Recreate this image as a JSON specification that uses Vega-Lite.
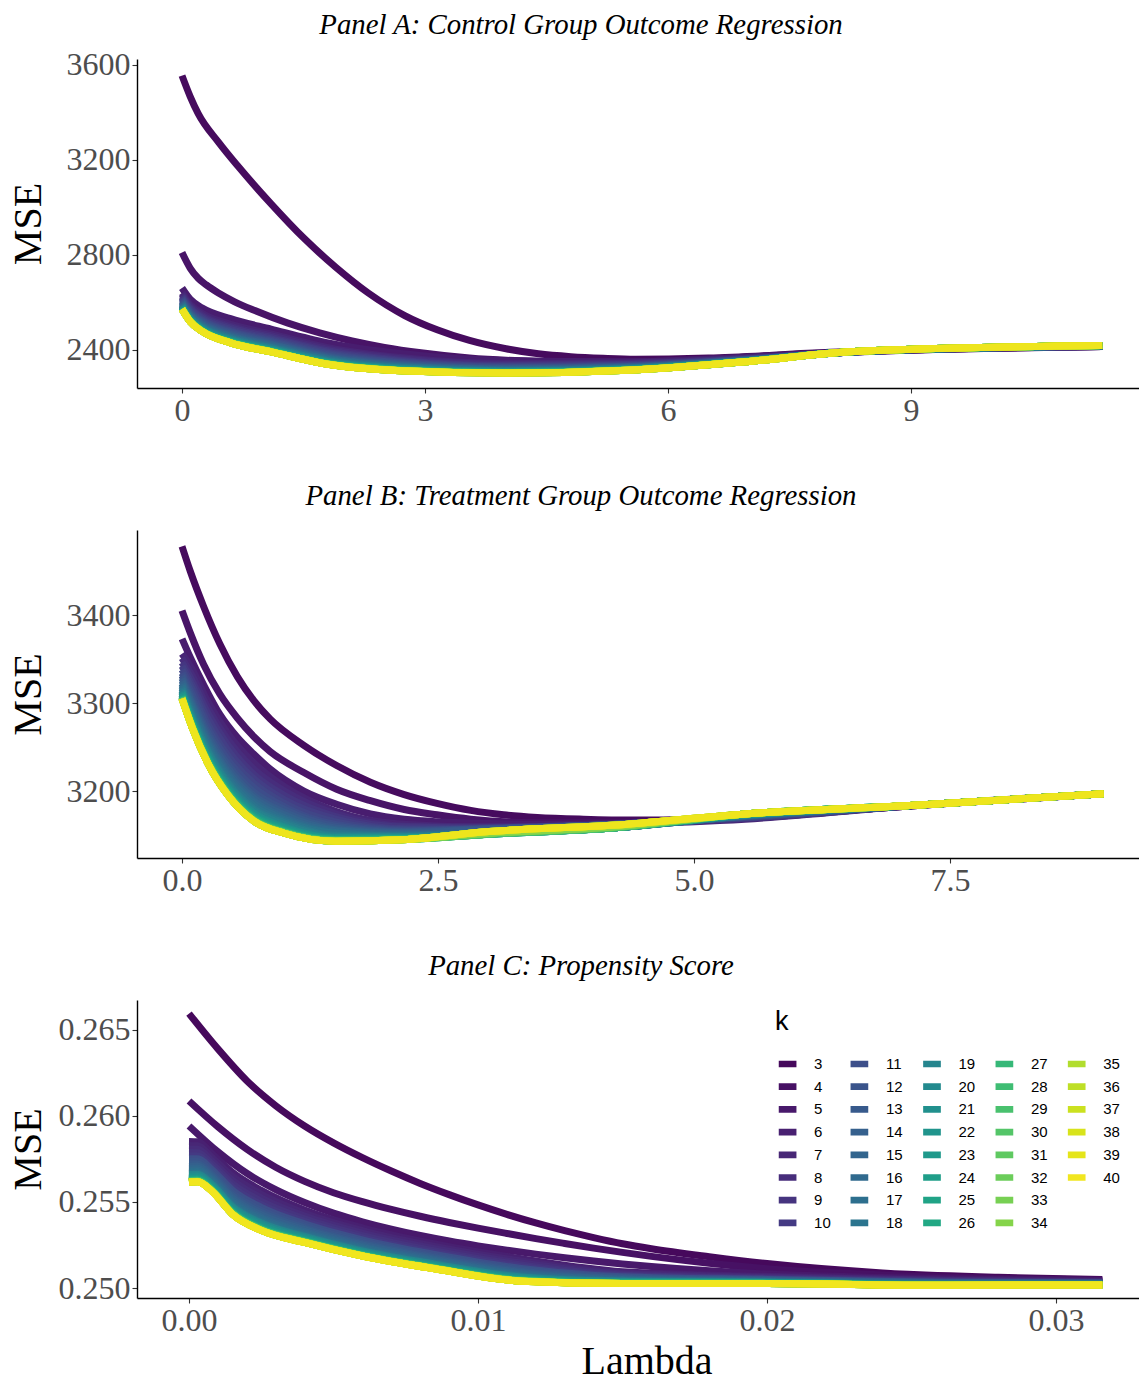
{
"$schema": "https://vega.github.io/schema/vega-lite/v6.json",
"background": "white",
"padding": {"left": 8, "top": 11, "right": 0, "bottom": 0},
"config": {
  "font": "Liberation Serif",
  "view": {"stroke": null},
  "axis": {"grid": false, "domainColor": "#000000", "domainWidth": 1.4, "tickColor": "#333333", "tickWidth": 1.1, "tickSize": 5, "labelFont": "Liberation Serif", "labelFontSize": 32, "labelColor": "#4D4D4D", "labelPadding": 2, "labelOverlap": false, "titleFont": "Liberation Serif", "titleFontSize": 40, "titleFontWeight": "normal", "titleColor": "#000000"}
},
"datasets": {
"A": [
{"k":3,"x":0,"y":3555},{"k":3,"x":0.1,"y":3468},{"k":3,"x":0.2,"y":3395},{"k":3,"x":0.45,"y":3275},{"k":3,"x":0.7,"y":3170},{"k":3,"x":1.1,"y":3015},{"k":3,"x":1.5,"y":2872},{"k":3,"x":1.9,"y":2748},{"k":3,"x":2.3,"y":2640},{"k":3,"x":2.75,"y":2545},{"k":3,"x":3.15,"y":2485},{"k":3,"x":3.55,"y":2440},{"k":3,"x":4,"y":2405},{"k":3,"x":4.4,"y":2384},{"k":3,"x":4.8,"y":2372},{"k":3,"x":5.2,"y":2365},{"k":3,"x":5.6,"y":2361},{"k":3,"x":6.5,"y":2366},{"k":3,"x":8,"y":2390},{"k":3,"x":9.5,"y":2405},{"k":3,"x":11.36,"y":2415},
{"k":4,"x":0,"y":2810},{"k":4,"x":0.1,"y":2745},{"k":4,"x":0.2,"y":2702},{"k":4,"x":0.3,"y":2674},{"k":4,"x":0.45,"y":2640},{"k":4,"x":0.65,"y":2603},{"k":4,"x":0.9,"y":2566},{"k":4,"x":1.3,"y":2514},{"k":4,"x":1.7,"y":2472},{"k":4,"x":2.1,"y":2438},{"k":4,"x":2.5,"y":2411},{"k":4,"x":2.95,"y":2388},{"k":4,"x":3.55,"y":2366},{"k":4,"x":4.4,"y":2352},{"k":4,"x":5.2,"y":2348},{"k":4,"x":6.5,"y":2362},{"k":4,"x":8,"y":2388},{"k":4,"x":9.5,"y":2404},{"k":4,"x":11.36,"y":2415},
{"k":5,"x":0,"y":2661},{"k":5,"x":0.1,"y":2614},{"k":5,"x":0.25,"y":2577},{"k":5,"x":0.6,"y":2532},{"k":5,"x":1.1,"y":2488},{"k":5,"x":1.8,"y":2430},{"k":5,"x":2.7,"y":2385},{"k":5,"x":4,"y":2355},{"k":5,"x":5.5,"y":2350},{"k":5,"x":7,"y":2370},{"k":5,"x":8.3,"y":2392},{"k":5,"x":11.36,"y":2415},
{"k":6,"x":0,"y":2640},{"k":6,"x":0.1,"y":2592},{"k":6,"x":0.25,"y":2554},{"k":6,"x":0.6,"y":2508},{"k":6,"x":1.1,"y":2468},{"k":6,"x":1.8,"y":2410},{"k":6,"x":2.7,"y":2368},{"k":6,"x":4,"y":2343},{"k":6,"x":5.5,"y":2345},{"k":6,"x":7,"y":2366},{"k":6,"x":8.3,"y":2392},{"k":6,"x":11.36,"y":2415},
{"k":7,"x":0,"y":2633},{"k":7,"x":0.1,"y":2585},{"k":7,"x":0.25,"y":2546},{"k":7,"x":0.6,"y":2500},{"k":7,"x":1.1,"y":2460},{"k":7,"x":1.8,"y":2403},{"k":7,"x":2.7,"y":2363},{"k":7,"x":4,"y":2339},{"k":7,"x":5.5,"y":2342},{"k":7,"x":7,"y":2365},{"k":7,"x":8.3,"y":2392},{"k":7,"x":11.36,"y":2415},
{"k":8,"x":0,"y":2627},{"k":8,"x":0.1,"y":2578},{"k":8,"x":0.25,"y":2539},{"k":8,"x":0.6,"y":2493},{"k":8,"x":1.1,"y":2453},{"k":8,"x":1.8,"y":2397},{"k":8,"x":2.7,"y":2357},{"k":8,"x":4,"y":2335},{"k":8,"x":5.5,"y":2339},{"k":8,"x":7,"y":2363},{"k":8,"x":8.3,"y":2392},{"k":8,"x":11.36,"y":2416},
{"k":9,"x":0,"y":2621},{"k":9,"x":0.1,"y":2572},{"k":9,"x":0.25,"y":2533},{"k":9,"x":0.6,"y":2486},{"k":9,"x":1.1,"y":2447},{"k":9,"x":1.8,"y":2391},{"k":9,"x":2.7,"y":2353},{"k":9,"x":4,"y":2332},{"k":9,"x":5.5,"y":2337},{"k":9,"x":7,"y":2362},{"k":9,"x":8.3,"y":2393},{"k":9,"x":11.36,"y":2416},
{"k":10,"x":0,"y":2616},{"k":10,"x":0.1,"y":2566},{"k":10,"x":0.25,"y":2527},{"k":10,"x":0.6,"y":2480},{"k":10,"x":1.1,"y":2441},{"k":10,"x":1.8,"y":2385},{"k":10,"x":2.7,"y":2348},{"k":10,"x":4,"y":2329},{"k":10,"x":5.5,"y":2334},{"k":10,"x":7,"y":2361},{"k":10,"x":8.3,"y":2393},{"k":10,"x":11.36,"y":2416},
{"k":11,"x":0,"y":2611},{"k":11,"x":0.1,"y":2561},{"k":11,"x":0.25,"y":2522},{"k":11,"x":0.6,"y":2475},{"k":11,"x":1.1,"y":2436},{"k":11,"x":1.8,"y":2380},{"k":11,"x":2.7,"y":2345},{"k":11,"x":4,"y":2326},{"k":11,"x":5.5,"y":2332},{"k":11,"x":7,"y":2360},{"k":11,"x":8.3,"y":2393},{"k":11,"x":11.36,"y":2417},
{"k":12,"x":0,"y":2606},{"k":12,"x":0.1,"y":2557},{"k":12,"x":0.25,"y":2517},{"k":12,"x":0.6,"y":2470},{"k":12,"x":1.1,"y":2431},{"k":12,"x":1.8,"y":2375},{"k":12,"x":2.7,"y":2341},{"k":12,"x":4,"y":2323},{"k":12,"x":5.5,"y":2330},{"k":12,"x":7,"y":2359},{"k":12,"x":8.3,"y":2393},{"k":12,"x":11.36,"y":2417},
{"k":13,"x":0,"y":2602},{"k":13,"x":0.1,"y":2552},{"k":13,"x":0.25,"y":2512},{"k":13,"x":0.6,"y":2465},{"k":13,"x":1.1,"y":2426},{"k":13,"x":1.8,"y":2371},{"k":13,"x":2.7,"y":2338},{"k":13,"x":4,"y":2321},{"k":13,"x":5.5,"y":2328},{"k":13,"x":7,"y":2358},{"k":13,"x":8.3,"y":2393},{"k":13,"x":11.36,"y":2417},
{"k":14,"x":0,"y":2599},{"k":14,"x":0.1,"y":2548},{"k":14,"x":0.25,"y":2508},{"k":14,"x":0.6,"y":2460},{"k":14,"x":1.1,"y":2422},{"k":14,"x":1.8,"y":2367},{"k":14,"x":2.7,"y":2335},{"k":14,"x":4,"y":2319},{"k":14,"x":5.5,"y":2327},{"k":14,"x":7,"y":2357},{"k":14,"x":8.3,"y":2393},{"k":14,"x":11.36,"y":2417},
{"k":15,"x":0,"y":2595},{"k":15,"x":0.1,"y":2545},{"k":15,"x":0.25,"y":2504},{"k":15,"x":0.6,"y":2457},{"k":15,"x":1.1,"y":2418},{"k":15,"x":1.8,"y":2364},{"k":15,"x":2.7,"y":2332},{"k":15,"x":4,"y":2317},{"k":15,"x":5.5,"y":2325},{"k":15,"x":7,"y":2357},{"k":15,"x":8.3,"y":2393},{"k":15,"x":11.36,"y":2418},
{"k":16,"x":0,"y":2592},{"k":16,"x":0.1,"y":2541},{"k":16,"x":0.25,"y":2500},{"k":16,"x":0.6,"y":2453},{"k":16,"x":1.1,"y":2414},{"k":16,"x":1.8,"y":2361},{"k":16,"x":2.7,"y":2329},{"k":16,"x":4,"y":2315},{"k":16,"x":5.5,"y":2324},{"k":16,"x":7,"y":2356},{"k":16,"x":8.3,"y":2393},{"k":16,"x":11.36,"y":2418},
{"k":17,"x":0,"y":2589},{"k":17,"x":0.1,"y":2538},{"k":17,"x":0.25,"y":2497},{"k":17,"x":0.6,"y":2450},{"k":17,"x":1.1,"y":2411},{"k":17,"x":1.8,"y":2358},{"k":17,"x":2.7,"y":2327},{"k":17,"x":4,"y":2313},{"k":17,"x":5.5,"y":2323},{"k":17,"x":7,"y":2356},{"k":17,"x":8.3,"y":2393},{"k":17,"x":11.36,"y":2418},
{"k":18,"x":0,"y":2587},{"k":18,"x":0.1,"y":2536},{"k":18,"x":0.25,"y":2495},{"k":18,"x":0.6,"y":2447},{"k":18,"x":1.1,"y":2409},{"k":18,"x":1.8,"y":2355},{"k":18,"x":2.7,"y":2325},{"k":18,"x":4,"y":2312},{"k":18,"x":5.5,"y":2322},{"k":18,"x":7,"y":2355},{"k":18,"x":8.3,"y":2394},{"k":18,"x":11.36,"y":2418},
{"k":19,"x":0,"y":2585},{"k":19,"x":0.1,"y":2533},{"k":19,"x":0.25,"y":2492},{"k":19,"x":0.6,"y":2444},{"k":19,"x":1.1,"y":2406},{"k":19,"x":1.8,"y":2353},{"k":19,"x":2.7,"y":2323},{"k":19,"x":4,"y":2310},{"k":19,"x":5.5,"y":2321},{"k":19,"x":7,"y":2355},{"k":19,"x":8.3,"y":2394},{"k":19,"x":11.36,"y":2418},
{"k":20,"x":0,"y":2583},{"k":20,"x":0.1,"y":2531},{"k":20,"x":0.25,"y":2490},{"k":20,"x":0.6,"y":2442},{"k":20,"x":1.1,"y":2404},{"k":20,"x":1.8,"y":2351},{"k":20,"x":2.7,"y":2322},{"k":20,"x":4,"y":2309},{"k":20,"x":5.5,"y":2320},{"k":20,"x":7,"y":2354},{"k":20,"x":8.3,"y":2394},{"k":20,"x":11.36,"y":2418},
{"k":21,"x":0,"y":2581},{"k":21,"x":0.1,"y":2529},{"k":21,"x":0.25,"y":2488},{"k":21,"x":0.6,"y":2440},{"k":21,"x":1.1,"y":2402},{"k":21,"x":1.8,"y":2349},{"k":21,"x":2.7,"y":2320},{"k":21,"x":4,"y":2308},{"k":21,"x":5.5,"y":2319},{"k":21,"x":7,"y":2354},{"k":21,"x":8.3,"y":2394},{"k":21,"x":11.36,"y":2418},
{"k":22,"x":0,"y":2579},{"k":22,"x":0.1,"y":2528},{"k":22,"x":0.25,"y":2486},{"k":22,"x":0.6,"y":2438},{"k":22,"x":1.1,"y":2400},{"k":22,"x":1.8,"y":2348},{"k":22,"x":2.7,"y":2319},{"k":22,"x":4,"y":2307},{"k":22,"x":5.5,"y":2318},{"k":22,"x":7,"y":2354},{"k":22,"x":8.3,"y":2394},{"k":22,"x":11.36,"y":2419},
{"k":23,"x":0,"y":2578},{"k":23,"x":0.1,"y":2526},{"k":23,"x":0.25,"y":2485},{"k":23,"x":0.6,"y":2437},{"k":23,"x":1.1,"y":2399},{"k":23,"x":1.8,"y":2346},{"k":23,"x":2.7,"y":2318},{"k":23,"x":4,"y":2307},{"k":23,"x":5.5,"y":2318},{"k":23,"x":7,"y":2353},{"k":23,"x":8.3,"y":2394},{"k":23,"x":11.36,"y":2419},
{"k":24,"x":0,"y":2577},{"k":24,"x":0.1,"y":2525},{"k":24,"x":0.25,"y":2483},{"k":24,"x":0.6,"y":2436},{"k":24,"x":1.1,"y":2397},{"k":24,"x":1.8,"y":2345},{"k":24,"x":2.7,"y":2317},{"k":24,"x":4,"y":2306},{"k":24,"x":5.5,"y":2317},{"k":24,"x":7,"y":2353},{"k":24,"x":8.3,"y":2394},{"k":24,"x":11.36,"y":2419},
{"k":25,"x":0,"y":2576},{"k":25,"x":0.1,"y":2524},{"k":25,"x":0.25,"y":2482},{"k":25,"x":0.6,"y":2434},{"k":25,"x":1.1,"y":2396},{"k":25,"x":1.8,"y":2344},{"k":25,"x":2.7,"y":2316},{"k":25,"x":4,"y":2305},{"k":25,"x":5.5,"y":2317},{"k":25,"x":7,"y":2353},{"k":25,"x":8.3,"y":2394},{"k":25,"x":11.36,"y":2419},
{"k":26,"x":0,"y":2575},{"k":26,"x":0.1,"y":2523},{"k":26,"x":0.25,"y":2481},{"k":26,"x":0.6,"y":2434},{"k":26,"x":1.1,"y":2395},{"k":26,"x":1.8,"y":2343},{"k":26,"x":2.7,"y":2315},{"k":26,"x":4,"y":2305},{"k":26,"x":5.5,"y":2316},{"k":26,"x":7,"y":2353},{"k":26,"x":8.3,"y":2394},{"k":26,"x":11.36,"y":2419},
{"k":27,"x":0,"y":2574},{"k":27,"x":0.1,"y":2523},{"k":27,"x":0.25,"y":2481},{"k":27,"x":0.6,"y":2433},{"k":27,"x":1.1,"y":2395},{"k":27,"x":1.8,"y":2342},{"k":27,"x":2.7,"y":2315},{"k":27,"x":4,"y":2304},{"k":27,"x":5.5,"y":2316},{"k":27,"x":7,"y":2352},{"k":27,"x":8.3,"y":2394},{"k":27,"x":11.36,"y":2419},
{"k":28,"x":0,"y":2574},{"k":28,"x":0.1,"y":2522},{"k":28,"x":0.25,"y":2480},{"k":28,"x":0.6,"y":2432},{"k":28,"x":1.1,"y":2394},{"k":28,"x":1.8,"y":2342},{"k":28,"x":2.7,"y":2314},{"k":28,"x":4,"y":2304},{"k":28,"x":5.5,"y":2316},{"k":28,"x":7,"y":2352},{"k":28,"x":8.3,"y":2394},{"k":28,"x":11.36,"y":2419},
{"k":29,"x":0,"y":2573},{"k":29,"x":0.1,"y":2521},{"k":29,"x":0.25,"y":2479},{"k":29,"x":0.6,"y":2431},{"k":29,"x":1.1,"y":2393},{"k":29,"x":1.8,"y":2341},{"k":29,"x":2.7,"y":2314},{"k":29,"x":4,"y":2304},{"k":29,"x":5.5,"y":2316},{"k":29,"x":7,"y":2352},{"k":29,"x":8.3,"y":2394},{"k":29,"x":11.36,"y":2419},
{"k":30,"x":0,"y":2573},{"k":30,"x":0.1,"y":2521},{"k":30,"x":0.25,"y":2479},{"k":30,"x":0.6,"y":2431},{"k":30,"x":1.1,"y":2393},{"k":30,"x":1.8,"y":2341},{"k":30,"x":2.7,"y":2314},{"k":30,"x":4,"y":2304},{"k":30,"x":5.5,"y":2315},{"k":30,"x":7,"y":2352},{"k":30,"x":8.3,"y":2394},{"k":30,"x":11.36,"y":2419},
{"k":31,"x":0,"y":2573},{"k":31,"x":0.1,"y":2521},{"k":31,"x":0.25,"y":2479},{"k":31,"x":0.6,"y":2431},{"k":31,"x":1.1,"y":2393},{"k":31,"x":1.8,"y":2341},{"k":31,"x":2.7,"y":2314},{"k":31,"x":4,"y":2303},{"k":31,"x":5.5,"y":2315},{"k":31,"x":7,"y":2352},{"k":31,"x":8.3,"y":2394},{"k":31,"x":11.36,"y":2419},
{"k":32,"x":0,"y":2572},{"k":32,"x":0.1,"y":2520},{"k":32,"x":0.25,"y":2478},{"k":32,"x":0.6,"y":2430},{"k":32,"x":1.1,"y":2392},{"k":32,"x":1.8,"y":2340},{"k":32,"x":2.7,"y":2313},{"k":32,"x":4,"y":2303},{"k":32,"x":5.5,"y":2315},{"k":32,"x":7,"y":2352},{"k":32,"x":8.3,"y":2394},{"k":32,"x":11.36,"y":2419},
{"k":33,"x":0,"y":2572},{"k":33,"x":0.1,"y":2520},{"k":33,"x":0.25,"y":2478},{"k":33,"x":0.6,"y":2430},{"k":33,"x":1.1,"y":2392},{"k":33,"x":1.8,"y":2340},{"k":33,"x":2.7,"y":2313},{"k":33,"x":4,"y":2303},{"k":33,"x":5.5,"y":2315},{"k":33,"x":7,"y":2352},{"k":33,"x":8.3,"y":2394},{"k":33,"x":11.36,"y":2419},
{"k":34,"x":0,"y":2572},{"k":34,"x":0.1,"y":2520},{"k":34,"x":0.25,"y":2478},{"k":34,"x":0.6,"y":2430},{"k":34,"x":1.1,"y":2392},{"k":34,"x":1.8,"y":2340},{"k":34,"x":2.7,"y":2313},{"k":34,"x":4,"y":2303},{"k":34,"x":5.5,"y":2315},{"k":34,"x":7,"y":2352},{"k":34,"x":8.3,"y":2394},{"k":34,"x":11.36,"y":2419},
{"k":35,"x":0,"y":2572},{"k":35,"x":0.1,"y":2520},{"k":35,"x":0.25,"y":2478},{"k":35,"x":0.6,"y":2430},{"k":35,"x":1.1,"y":2392},{"k":35,"x":1.8,"y":2340},{"k":35,"x":2.7,"y":2313},{"k":35,"x":4,"y":2303},{"k":35,"x":5.5,"y":2315},{"k":35,"x":7,"y":2352},{"k":35,"x":8.3,"y":2394},{"k":35,"x":11.36,"y":2419},
{"k":36,"x":0,"y":2572},{"k":36,"x":0.1,"y":2520},{"k":36,"x":0.25,"y":2478},{"k":36,"x":0.6,"y":2430},{"k":36,"x":1.1,"y":2392},{"k":36,"x":1.8,"y":2340},{"k":36,"x":2.7,"y":2313},{"k":36,"x":4,"y":2303},{"k":36,"x":5.5,"y":2315},{"k":36,"x":7,"y":2352},{"k":36,"x":8.3,"y":2394},{"k":36,"x":11.36,"y":2419},
{"k":37,"x":0,"y":2572},{"k":37,"x":0.1,"y":2520},{"k":37,"x":0.25,"y":2478},{"k":37,"x":0.6,"y":2430},{"k":37,"x":1.1,"y":2392},{"k":37,"x":1.8,"y":2340},{"k":37,"x":2.7,"y":2313},{"k":37,"x":4,"y":2303},{"k":37,"x":5.5,"y":2315},{"k":37,"x":7,"y":2352},{"k":37,"x":8.3,"y":2394},{"k":37,"x":11.36,"y":2419},
{"k":38,"x":0,"y":2572},{"k":38,"x":0.1,"y":2520},{"k":38,"x":0.25,"y":2478},{"k":38,"x":0.6,"y":2430},{"k":38,"x":1.1,"y":2392},{"k":38,"x":1.8,"y":2340},{"k":38,"x":2.7,"y":2313},{"k":38,"x":4,"y":2303},{"k":38,"x":5.5,"y":2315},{"k":38,"x":7,"y":2352},{"k":38,"x":8.3,"y":2394},{"k":38,"x":11.36,"y":2419},
{"k":39,"x":0,"y":2572},{"k":39,"x":0.1,"y":2520},{"k":39,"x":0.25,"y":2478},{"k":39,"x":0.6,"y":2430},{"k":39,"x":1.1,"y":2392},{"k":39,"x":1.8,"y":2340},{"k":39,"x":2.7,"y":2313},{"k":39,"x":4,"y":2303},{"k":39,"x":5.5,"y":2315},{"k":39,"x":7,"y":2352},{"k":39,"x":8.3,"y":2394},{"k":39,"x":11.36,"y":2419},
{"k":40,"x":0,"y":2572},{"k":40,"x":0.1,"y":2520},{"k":40,"x":0.25,"y":2478},{"k":40,"x":0.6,"y":2430},{"k":40,"x":1.1,"y":2392},{"k":40,"x":1.8,"y":2340},{"k":40,"x":2.7,"y":2313},{"k":40,"x":4,"y":2303},{"k":40,"x":5.5,"y":2315},{"k":40,"x":7,"y":2352},{"k":40,"x":8.3,"y":2394},{"k":40,"x":11.36,"y":2419}
],
"B": [
{"k":3,"x":0,"y":3478},{"k":3,"x":0.08,"y":3450},{"k":3,"x":0.21,"y":3410},{"k":3,"x":0.37,"y":3367},{"k":3,"x":0.54,"y":3330},{"k":3,"x":0.7,"y":3303},{"k":3,"x":0.86,"y":3282},{"k":3,"x":1.19,"y":3252},{"k":3,"x":1.51,"y":3229},{"k":3,"x":1.84,"y":3210},{"k":3,"x":2.17,"y":3196},{"k":3,"x":2.49,"y":3186},{"k":3,"x":2.82,"y":3178},{"k":3,"x":3.14,"y":3173},{"k":3,"x":3.47,"y":3170},{"k":3,"x":3.92,"y":3168},{"k":3,"x":4.4,"y":3167},{"k":3,"x":5,"y":3168},{"k":3,"x":6.2,"y":3176},{"k":3,"x":7.5,"y":3186},{"k":3,"x":9,"y":3197},
{"k":4,"x":0,"y":3405},{"k":4,"x":0.08,"y":3380},{"k":4,"x":0.21,"y":3344},{"k":4,"x":0.37,"y":3310},{"k":4,"x":0.54,"y":3283},{"k":4,"x":0.7,"y":3262},{"k":4,"x":0.86,"y":3245},{"k":4,"x":1.19,"y":3221},{"k":4,"x":1.51,"y":3202},{"k":4,"x":1.84,"y":3189},{"k":4,"x":2.17,"y":3179},{"k":4,"x":2.49,"y":3173},{"k":4,"x":2.82,"y":3168},{"k":4,"x":3.47,"y":3164},{"k":4,"x":4.2,"y":3164},{"k":4,"x":5,"y":3167},{"k":4,"x":6.2,"y":3176},{"k":4,"x":7.5,"y":3186},{"k":4,"x":9,"y":3197},
{"k":5,"x":0,"y":3373},{"k":5,"x":0.08,"y":3352},{"k":5,"x":0.21,"y":3321},{"k":5,"x":0.37,"y":3287},{"k":5,"x":0.54,"y":3261},{"k":5,"x":0.7,"y":3242},{"k":5,"x":0.86,"y":3225},{"k":5,"x":1.19,"y":3200},{"k":5,"x":1.51,"y":3185},{"k":5,"x":1.84,"y":3174},{"k":5,"x":2.17,"y":3168},{"k":5,"x":2.5,"y":3165},{"k":5,"x":3,"y":3163},{"k":5,"x":3.5,"y":3162},{"k":5,"x":4.2,"y":3163},{"k":5,"x":5,"y":3167},{"k":5,"x":6.2,"y":3176},{"k":5,"x":7.5,"y":3186},{"k":5,"x":9,"y":3197},
{"k":6,"x":0,"y":3356},{"k":6,"x":0.1,"y":3338},{"k":6,"x":0.25,"y":3302},{"k":6,"x":0.45,"y":3265},{"k":6,"x":0.7,"y":3232},{"k":6,"x":1,"y":3205},{"k":6,"x":1.5,"y":3177},{"k":6,"x":2.2,"y":3162},{"k":6,"x":3,"y":3159},{"k":6,"x":4.2,"y":3162},{"k":6,"x":5.5,"y":3168},{"k":6,"x":7.2,"y":3184},{"k":6,"x":9,"y":3197},
{"k":7,"x":0,"y":3351},{"k":7,"x":0.1,"y":3331},{"k":7,"x":0.25,"y":3295},{"k":7,"x":0.45,"y":3258},{"k":7,"x":0.7,"y":3225},{"k":7,"x":1,"y":3200},{"k":7,"x":1.5,"y":3174},{"k":7,"x":2.2,"y":3160},{"k":7,"x":3,"y":3159},{"k":7,"x":4.2,"y":3162},{"k":7,"x":5.5,"y":3169},{"k":7,"x":7.2,"y":3184},{"k":7,"x":9,"y":3197},
{"k":8,"x":0,"y":3346},{"k":8,"x":0.1,"y":3325},{"k":8,"x":0.25,"y":3289},{"k":8,"x":0.45,"y":3252},{"k":8,"x":0.7,"y":3219},{"k":8,"x":1,"y":3195},{"k":8,"x":1.5,"y":3171},{"k":8,"x":2.2,"y":3159},{"k":8,"x":3,"y":3158},{"k":8,"x":4.2,"y":3162},{"k":8,"x":5.5,"y":3169},{"k":8,"x":7.2,"y":3184},{"k":8,"x":9,"y":3197},
{"k":9,"x":0,"y":3342},{"k":9,"x":0.1,"y":3320},{"k":9,"x":0.25,"y":3283},{"k":9,"x":0.45,"y":3246},{"k":9,"x":0.7,"y":3214},{"k":9,"x":1,"y":3190},{"k":9,"x":1.5,"y":3168},{"k":9,"x":2.2,"y":3157},{"k":9,"x":3,"y":3158},{"k":9,"x":4.2,"y":3162},{"k":9,"x":5.5,"y":3170},{"k":9,"x":7.2,"y":3184},{"k":9,"x":9,"y":3197},
{"k":10,"x":0,"y":3338},{"k":10,"x":0.1,"y":3315},{"k":10,"x":0.25,"y":3277},{"k":10,"x":0.45,"y":3240},{"k":10,"x":0.7,"y":3209},{"k":10,"x":1,"y":3186},{"k":10,"x":1.5,"y":3165},{"k":10,"x":2.2,"y":3156},{"k":10,"x":3,"y":3157},{"k":10,"x":4.2,"y":3162},{"k":10,"x":5.5,"y":3170},{"k":10,"x":7.2,"y":3184},{"k":10,"x":9,"y":3197},
{"k":11,"x":0,"y":3334},{"k":11,"x":0.1,"y":3310},{"k":11,"x":0.25,"y":3272},{"k":11,"x":0.45,"y":3235},{"k":11,"x":0.7,"y":3204},{"k":11,"x":1,"y":3182},{"k":11,"x":1.5,"y":3162},{"k":11,"x":2.2,"y":3155},{"k":11,"x":3,"y":3157},{"k":11,"x":4.2,"y":3162},{"k":11,"x":5.5,"y":3171},{"k":11,"x":7.2,"y":3184},{"k":11,"x":9,"y":3197},
{"k":12,"x":0,"y":3331},{"k":12,"x":0.1,"y":3305},{"k":12,"x":0.25,"y":3267},{"k":12,"x":0.45,"y":3230},{"k":12,"x":0.7,"y":3199},{"k":12,"x":1,"y":3179},{"k":12,"x":1.5,"y":3160},{"k":12,"x":2.2,"y":3154},{"k":12,"x":3,"y":3157},{"k":12,"x":4.2,"y":3162},{"k":12,"x":5.5,"y":3171},{"k":12,"x":7.2,"y":3184},{"k":12,"x":9,"y":3197},
{"k":13,"x":0,"y":3328},{"k":13,"x":0.1,"y":3301},{"k":13,"x":0.25,"y":3263},{"k":13,"x":0.45,"y":3226},{"k":13,"x":0.7,"y":3195},{"k":13,"x":1,"y":3176},{"k":13,"x":1.5,"y":3158},{"k":13,"x":2.2,"y":3153},{"k":13,"x":3,"y":3156},{"k":13,"x":4.2,"y":3161},{"k":13,"x":5.5,"y":3171},{"k":13,"x":7.2,"y":3184},{"k":13,"x":9,"y":3197},
{"k":14,"x":0,"y":3325},{"k":14,"x":0.1,"y":3298},{"k":14,"x":0.25,"y":3259},{"k":14,"x":0.45,"y":3222},{"k":14,"x":0.7,"y":3192},{"k":14,"x":1,"y":3173},{"k":14,"x":1.5,"y":3156},{"k":14,"x":2.2,"y":3152},{"k":14,"x":3,"y":3153},{"k":14,"x":4.2,"y":3158},{"k":14,"x":5.5,"y":3172},{"k":14,"x":7.2,"y":3184},{"k":14,"x":9,"y":3197},
{"k":15,"x":0,"y":3322},{"k":15,"x":0.1,"y":3295},{"k":15,"x":0.25,"y":3256},{"k":15,"x":0.45,"y":3219},{"k":15,"x":0.7,"y":3189},{"k":15,"x":1,"y":3170},{"k":15,"x":1.5,"y":3155},{"k":15,"x":2.2,"y":3151},{"k":15,"x":3,"y":3153},{"k":15,"x":4.2,"y":3158},{"k":15,"x":5.5,"y":3172},{"k":15,"x":7.2,"y":3184},{"k":15,"x":9,"y":3197},
{"k":16,"x":0,"y":3320},{"k":16,"x":0.1,"y":3292},{"k":16,"x":0.25,"y":3253},{"k":16,"x":0.45,"y":3216},{"k":16,"x":0.7,"y":3186},{"k":16,"x":1,"y":3168},{"k":16,"x":1.5,"y":3153},{"k":16,"x":2.2,"y":3150},{"k":16,"x":3,"y":3152},{"k":16,"x":4.2,"y":3158},{"k":16,"x":5.5,"y":3172},{"k":16,"x":7.2,"y":3184},{"k":16,"x":9,"y":3197},
{"k":17,"x":0,"y":3318},{"k":17,"x":0.1,"y":3289},{"k":17,"x":0.25,"y":3250},{"k":17,"x":0.45,"y":3213},{"k":17,"x":0.7,"y":3183},{"k":17,"x":1,"y":3166},{"k":17,"x":1.5,"y":3152},{"k":17,"x":2.2,"y":3149},{"k":17,"x":3,"y":3152},{"k":17,"x":4.2,"y":3158},{"k":17,"x":5.5,"y":3172},{"k":17,"x":7.2,"y":3184},{"k":17,"x":9,"y":3197},
{"k":18,"x":0,"y":3316},{"k":18,"x":0.1,"y":3286},{"k":18,"x":0.25,"y":3247},{"k":18,"x":0.45,"y":3210},{"k":18,"x":0.7,"y":3180},{"k":18,"x":1,"y":3164},{"k":18,"x":1.5,"y":3150},{"k":18,"x":2.2,"y":3149},{"k":18,"x":3,"y":3152},{"k":18,"x":4.2,"y":3158},{"k":18,"x":5.5,"y":3173},{"k":18,"x":7.2,"y":3184},{"k":18,"x":9,"y":3197},
{"k":19,"x":0,"y":3314},{"k":19,"x":0.1,"y":3284},{"k":19,"x":0.25,"y":3245},{"k":19,"x":0.45,"y":3208},{"k":19,"x":0.7,"y":3178},{"k":19,"x":1,"y":3162},{"k":19,"x":1.5,"y":3149},{"k":19,"x":2.2,"y":3148},{"k":19,"x":3,"y":3152},{"k":19,"x":4.2,"y":3158},{"k":19,"x":5.5,"y":3173},{"k":19,"x":7.2,"y":3184},{"k":19,"x":9,"y":3197},
{"k":20,"x":0,"y":3313},{"k":20,"x":0.1,"y":3282},{"k":20,"x":0.25,"y":3243},{"k":20,"x":0.45,"y":3206},{"k":20,"x":0.7,"y":3176},{"k":20,"x":1,"y":3160},{"k":20,"x":1.5,"y":3148},{"k":20,"x":2.2,"y":3148},{"k":20,"x":3,"y":3152},{"k":20,"x":4.2,"y":3158},{"k":20,"x":5.5,"y":3173},{"k":20,"x":7.2,"y":3184},{"k":20,"x":9,"y":3197},
{"k":21,"x":0,"y":3312},{"k":21,"x":0.1,"y":3281},{"k":21,"x":0.25,"y":3241},{"k":21,"x":0.45,"y":3204},{"k":21,"x":0.7,"y":3175},{"k":21,"x":1,"y":3159},{"k":21,"x":1.5,"y":3147},{"k":21,"x":2.2,"y":3147},{"k":21,"x":3,"y":3152},{"k":21,"x":4.2,"y":3158},{"k":21,"x":5.5,"y":3173},{"k":21,"x":7.2,"y":3184},{"k":21,"x":9,"y":3197},
{"k":22,"x":0,"y":3311},{"k":22,"x":0.1,"y":3279},{"k":22,"x":0.25,"y":3240},{"k":22,"x":0.45,"y":3203},{"k":22,"x":0.7,"y":3173},{"k":22,"x":1,"y":3158},{"k":22,"x":1.5,"y":3147},{"k":22,"x":2.2,"y":3147},{"k":22,"x":3,"y":3152},{"k":22,"x":4.2,"y":3158},{"k":22,"x":5.5,"y":3173},{"k":22,"x":7.2,"y":3184},{"k":22,"x":9,"y":3197},
{"k":23,"x":0,"y":3309},{"k":23,"x":0.1,"y":3278},{"k":23,"x":0.25,"y":3238},{"k":23,"x":0.45,"y":3201},{"k":23,"x":0.7,"y":3172},{"k":23,"x":1,"y":3157},{"k":23,"x":1.5,"y":3146},{"k":23,"x":2.2,"y":3146},{"k":23,"x":3,"y":3151},{"k":23,"x":4.2,"y":3158},{"k":23,"x":5.5,"y":3173},{"k":23,"x":7.2,"y":3184},{"k":23,"x":9,"y":3197},
{"k":24,"x":0,"y":3309},{"k":24,"x":0.1,"y":3277},{"k":24,"x":0.25,"y":3237},{"k":24,"x":0.45,"y":3200},{"k":24,"x":0.7,"y":3171},{"k":24,"x":1,"y":3156},{"k":24,"x":1.5,"y":3145},{"k":24,"x":2.2,"y":3146},{"k":24,"x":3,"y":3151},{"k":24,"x":4.2,"y":3158},{"k":24,"x":5.5,"y":3174},{"k":24,"x":7.2,"y":3184},{"k":24,"x":9,"y":3197},
{"k":25,"x":0,"y":3308},{"k":25,"x":0.1,"y":3276},{"k":25,"x":0.25,"y":3236},{"k":25,"x":0.45,"y":3199},{"k":25,"x":0.7,"y":3170},{"k":25,"x":1,"y":3155},{"k":25,"x":1.5,"y":3145},{"k":25,"x":2.2,"y":3146},{"k":25,"x":3,"y":3151},{"k":25,"x":4.2,"y":3158},{"k":25,"x":5.5,"y":3174},{"k":25,"x":7.2,"y":3184},{"k":25,"x":9,"y":3197},
{"k":26,"x":0,"y":3307},{"k":26,"x":0.1,"y":3275},{"k":26,"x":0.25,"y":3235},{"k":26,"x":0.45,"y":3198},{"k":26,"x":0.7,"y":3169},{"k":26,"x":1,"y":3154},{"k":26,"x":1.5,"y":3145},{"k":26,"x":2.2,"y":3146},{"k":26,"x":3,"y":3151},{"k":26,"x":4.2,"y":3158},{"k":26,"x":5.5,"y":3174},{"k":26,"x":7.2,"y":3184},{"k":26,"x":9,"y":3197},
{"k":27,"x":0,"y":3307},{"k":27,"x":0.1,"y":3274},{"k":27,"x":0.25,"y":3234},{"k":27,"x":0.45,"y":3197},{"k":27,"x":0.7,"y":3168},{"k":27,"x":1,"y":3154},{"k":27,"x":1.5,"y":3144},{"k":27,"x":2.2,"y":3146},{"k":27,"x":3,"y":3151},{"k":27,"x":4.2,"y":3158},{"k":27,"x":5.5,"y":3174},{"k":27,"x":7.2,"y":3184},{"k":27,"x":9,"y":3197},
{"k":28,"x":0,"y":3306},{"k":28,"x":0.1,"y":3274},{"k":28,"x":0.25,"y":3234},{"k":28,"x":0.45,"y":3197},{"k":28,"x":0.7,"y":3168},{"k":28,"x":1,"y":3153},{"k":28,"x":1.5,"y":3144},{"k":28,"x":2.2,"y":3145},{"k":28,"x":3,"y":3151},{"k":28,"x":4.2,"y":3158},{"k":28,"x":5.5,"y":3174},{"k":28,"x":7.2,"y":3184},{"k":28,"x":9,"y":3197},
{"k":29,"x":0,"y":3306},{"k":29,"x":0.1,"y":3273},{"k":29,"x":0.25,"y":3233},{"k":29,"x":0.45,"y":3196},{"k":29,"x":0.7,"y":3167},{"k":29,"x":1,"y":3153},{"k":29,"x":1.5,"y":3144},{"k":29,"x":2.2,"y":3145},{"k":29,"x":3,"y":3151},{"k":29,"x":4.2,"y":3158},{"k":29,"x":5.5,"y":3174},{"k":29,"x":7.2,"y":3184},{"k":29,"x":9,"y":3197},
{"k":30,"x":0,"y":3306},{"k":30,"x":0.1,"y":3273},{"k":30,"x":0.25,"y":3233},{"k":30,"x":0.45,"y":3196},{"k":30,"x":0.7,"y":3167},{"k":30,"x":1,"y":3153},{"k":30,"x":1.5,"y":3143},{"k":30,"x":2.2,"y":3145},{"k":30,"x":3,"y":3151},{"k":30,"x":4.2,"y":3158},{"k":30,"x":5.5,"y":3174},{"k":30,"x":7.2,"y":3184},{"k":30,"x":9,"y":3197},
{"k":31,"x":0,"y":3306},{"k":31,"x":0.1,"y":3273},{"k":31,"x":0.25,"y":3233},{"k":31,"x":0.45,"y":3196},{"k":31,"x":0.7,"y":3167},{"k":31,"x":1,"y":3153},{"k":31,"x":1.5,"y":3143},{"k":31,"x":2.2,"y":3145},{"k":31,"x":3,"y":3152},{"k":31,"x":4.2,"y":3159},{"k":31,"x":5.5,"y":3174},{"k":31,"x":7.2,"y":3184},{"k":31,"x":9,"y":3197},
{"k":32,"x":0,"y":3305},{"k":32,"x":0.1,"y":3272},{"k":32,"x":0.25,"y":3232},{"k":32,"x":0.45,"y":3195},{"k":32,"x":0.7,"y":3166},{"k":32,"x":1,"y":3152},{"k":32,"x":1.5,"y":3143},{"k":32,"x":2.2,"y":3145},{"k":32,"x":3,"y":3152},{"k":32,"x":4.2,"y":3159},{"k":32,"x":5.5,"y":3174},{"k":32,"x":7.2,"y":3184},{"k":32,"x":9,"y":3197},
{"k":33,"x":0,"y":3305},{"k":33,"x":0.1,"y":3272},{"k":33,"x":0.25,"y":3232},{"k":33,"x":0.45,"y":3195},{"k":33,"x":0.7,"y":3166},{"k":33,"x":1,"y":3152},{"k":33,"x":1.5,"y":3143},{"k":33,"x":2.2,"y":3145},{"k":33,"x":3,"y":3152},{"k":33,"x":4.2,"y":3159},{"k":33,"x":5.5,"y":3174},{"k":33,"x":7.2,"y":3184},{"k":33,"x":9,"y":3197},
{"k":34,"x":0,"y":3305},{"k":34,"x":0.1,"y":3272},{"k":34,"x":0.25,"y":3232},{"k":34,"x":0.45,"y":3195},{"k":34,"x":0.7,"y":3166},{"k":34,"x":1,"y":3152},{"k":34,"x":1.5,"y":3143},{"k":34,"x":2.2,"y":3145},{"k":34,"x":3,"y":3152},{"k":34,"x":4.2,"y":3159},{"k":34,"x":5.5,"y":3174},{"k":34,"x":7.2,"y":3184},{"k":34,"x":9,"y":3197},
{"k":35,"x":0,"y":3305},{"k":35,"x":0.1,"y":3272},{"k":35,"x":0.25,"y":3232},{"k":35,"x":0.45,"y":3195},{"k":35,"x":0.7,"y":3166},{"k":35,"x":1,"y":3152},{"k":35,"x":1.5,"y":3143},{"k":35,"x":2.2,"y":3145},{"k":35,"x":3,"y":3154},{"k":35,"x":4.2,"y":3161},{"k":35,"x":5.5,"y":3174},{"k":35,"x":7.2,"y":3184},{"k":35,"x":9,"y":3197},
{"k":36,"x":0,"y":3305},{"k":36,"x":0.1,"y":3272},{"k":36,"x":0.25,"y":3232},{"k":36,"x":0.45,"y":3195},{"k":36,"x":0.7,"y":3166},{"k":36,"x":1,"y":3152},{"k":36,"x":1.5,"y":3143},{"k":36,"x":2.2,"y":3145},{"k":36,"x":3,"y":3154},{"k":36,"x":4.2,"y":3161},{"k":36,"x":5.5,"y":3174},{"k":36,"x":7.2,"y":3184},{"k":36,"x":9,"y":3197},
{"k":37,"x":0,"y":3305},{"k":37,"x":0.1,"y":3272},{"k":37,"x":0.25,"y":3232},{"k":37,"x":0.45,"y":3195},{"k":37,"x":0.7,"y":3166},{"k":37,"x":1,"y":3152},{"k":37,"x":1.5,"y":3143},{"k":37,"x":2.2,"y":3145},{"k":37,"x":3,"y":3154},{"k":37,"x":4.2,"y":3161},{"k":37,"x":5.5,"y":3174},{"k":37,"x":7.2,"y":3184},{"k":37,"x":9,"y":3197},
{"k":38,"x":0,"y":3305},{"k":38,"x":0.1,"y":3272},{"k":38,"x":0.25,"y":3232},{"k":38,"x":0.45,"y":3195},{"k":38,"x":0.7,"y":3166},{"k":38,"x":1,"y":3152},{"k":38,"x":1.5,"y":3143},{"k":38,"x":2.2,"y":3145},{"k":38,"x":3,"y":3154},{"k":38,"x":4.2,"y":3161},{"k":38,"x":5.5,"y":3174},{"k":38,"x":7.2,"y":3184},{"k":38,"x":9,"y":3197},
{"k":39,"x":0,"y":3305},{"k":39,"x":0.1,"y":3272},{"k":39,"x":0.25,"y":3232},{"k":39,"x":0.45,"y":3195},{"k":39,"x":0.7,"y":3166},{"k":39,"x":1,"y":3152},{"k":39,"x":1.5,"y":3143},{"k":39,"x":2.2,"y":3145},{"k":39,"x":3,"y":3154},{"k":39,"x":4.2,"y":3161},{"k":39,"x":5.5,"y":3174},{"k":39,"x":7.2,"y":3184},{"k":39,"x":9,"y":3197},
{"k":40,"x":0,"y":3305},{"k":40,"x":0.1,"y":3272},{"k":40,"x":0.25,"y":3232},{"k":40,"x":0.45,"y":3195},{"k":40,"x":0.7,"y":3166},{"k":40,"x":1,"y":3152},{"k":40,"x":1.5,"y":3143},{"k":40,"x":2.2,"y":3145},{"k":40,"x":3,"y":3154},{"k":40,"x":4.2,"y":3161},{"k":40,"x":5.5,"y":3174},{"k":40,"x":7.2,"y":3184},{"k":40,"x":9,"y":3197}
],
"C": [
{"k":3,"x":0,"y":0.26595},{"k":3,"x":0.001,"y":0.2639},{"k":3,"x":0.002,"y":0.26205},{"k":3,"x":0.003,"y":0.2606},{"k":3,"x":0.004,"y":0.25942},{"k":3,"x":0.005,"y":0.25844},{"k":3,"x":0.006,"y":0.25758},{"k":3,"x":0.007,"y":0.2568},{"k":3,"x":0.008,"y":0.25608},{"k":3,"x":0.009,"y":0.25543},{"k":3,"x":0.01,"y":0.25483},{"k":3,"x":0.011,"y":0.25428},{"k":3,"x":0.012,"y":0.25378},{"k":3,"x":0.013,"y":0.25333},{"k":3,"x":0.014,"y":0.25293},{"k":3,"x":0.015,"y":0.25257},{"k":3,"x":0.016,"y":0.25228},{"k":3,"x":0.018,"y":0.25182},{"k":3,"x":0.02,"y":0.25142},{"k":3,"x":0.024,"y":0.25088},{"k":3,"x":0.028,"y":0.25062},{"k":3,"x":0.0316,"y":0.2505},
{"k":4,"x":0,"y":0.26087},{"k":4,"x":0.001,"y":0.25937},{"k":4,"x":0.002,"y":0.25807},{"k":4,"x":0.003,"y":0.25702},{"k":4,"x":0.004,"y":0.2562},{"k":4,"x":0.005,"y":0.25554},{"k":4,"x":0.006,"y":0.25502},{"k":4,"x":0.007,"y":0.25457},{"k":4,"x":0.008,"y":0.25417},{"k":4,"x":0.009,"y":0.25381},{"k":4,"x":0.01,"y":0.25348},{"k":4,"x":0.011,"y":0.25317},{"k":4,"x":0.012,"y":0.25287},{"k":4,"x":0.013,"y":0.25259},{"k":4,"x":0.014,"y":0.25232},{"k":4,"x":0.015,"y":0.25207},{"k":4,"x":0.016,"y":0.25184},{"k":4,"x":0.018,"y":0.25144},{"k":4,"x":0.02,"y":0.25112},{"k":4,"x":0.024,"y":0.25076},{"k":4,"x":0.028,"y":0.25056},{"k":4,"x":0.0316,"y":0.25047},
{"k":5,"x":0,"y":0.25942},{"k":5,"x":0.001,"y":0.25792},{"k":5,"x":0.002,"y":0.25667},{"k":5,"x":0.003,"y":0.25572},{"k":5,"x":0.004,"y":0.25497},{"k":5,"x":0.005,"y":0.25435},{"k":5,"x":0.006,"y":0.25385},{"k":5,"x":0.007,"y":0.25342},{"k":5,"x":0.008,"y":0.25305},{"k":5,"x":0.009,"y":0.25273},{"k":5,"x":0.01,"y":0.25245},{"k":5,"x":0.011,"y":0.2522},{"k":5,"x":0.012,"y":0.25197},{"k":5,"x":0.013,"y":0.25176},{"k":5,"x":0.014,"y":0.25157},{"k":5,"x":0.015,"y":0.2514},{"k":5,"x":0.016,"y":0.25125},{"k":5,"x":0.018,"y":0.251},{"k":5,"x":0.02,"y":0.25081},{"k":5,"x":0.024,"y":0.25061},{"k":5,"x":0.028,"y":0.2505},{"k":5,"x":0.0316,"y":0.25044},
{"k":6,"x":0,"y":0.25852},{"k":6,"x":0.0003,"y":0.2585},{"k":6,"x":0.0008,"y":0.2578},{"k":6,"x":0.0015,"y":0.25673},{"k":6,"x":0.0025,"y":0.25568},{"k":6,"x":0.004,"y":0.25454},{"k":6,"x":0.006,"y":0.2535},{"k":6,"x":0.0085,"y":0.25256},{"k":6,"x":0.0115,"y":0.2517},{"k":6,"x":0.015,"y":0.25095},{"k":6,"x":0.02,"y":0.25068},{"k":6,"x":0.026,"y":0.25048},{"k":6,"x":0.0316,"y":0.25038},
{"k":7,"x":0,"y":0.25829},{"k":7,"x":0.0003,"y":0.25827},{"k":7,"x":0.0008,"y":0.25758},{"k":7,"x":0.0015,"y":0.25649},{"k":7,"x":0.0025,"y":0.25545},{"k":7,"x":0.004,"y":0.25435},{"k":7,"x":0.006,"y":0.25334},{"k":7,"x":0.0085,"y":0.25242},{"k":7,"x":0.0115,"y":0.25157},{"k":7,"x":0.015,"y":0.25088},{"k":7,"x":0.02,"y":0.25064},{"k":7,"x":0.026,"y":0.25045},{"k":7,"x":0.0316,"y":0.25036},
{"k":8,"x":0,"y":0.25807},{"k":8,"x":0.0003,"y":0.25806},{"k":8,"x":0.0008,"y":0.25738},{"k":8,"x":0.0015,"y":0.25627},{"k":8,"x":0.0025,"y":0.25523},{"k":8,"x":0.004,"y":0.25418},{"k":8,"x":0.006,"y":0.25319},{"k":8,"x":0.0085,"y":0.25228},{"k":8,"x":0.0115,"y":0.25145},{"k":8,"x":0.015,"y":0.25082},{"k":8,"x":0.02,"y":0.2506},{"k":8,"x":0.026,"y":0.25042},{"k":8,"x":0.0316,"y":0.25034},
{"k":9,"x":0,"y":0.25787},{"k":9,"x":0.0003,"y":0.25786},{"k":9,"x":0.0008,"y":0.2572},{"k":9,"x":0.0015,"y":0.25606},{"k":9,"x":0.0025,"y":0.25504},{"k":9,"x":0.004,"y":0.25402},{"k":9,"x":0.006,"y":0.25305},{"k":9,"x":0.0085,"y":0.25216},{"k":9,"x":0.0115,"y":0.25134},{"k":9,"x":0.015,"y":0.25076},{"k":9,"x":0.02,"y":0.25056},{"k":9,"x":0.026,"y":0.25039},{"k":9,"x":0.0316,"y":0.25032},
{"k":10,"x":0,"y":0.25768},{"k":10,"x":0.0003,"y":0.25768},{"k":10,"x":0.0008,"y":0.25703},{"k":10,"x":0.0015,"y":0.25587},{"k":10,"x":0.0025,"y":0.25485},{"k":10,"x":0.004,"y":0.25387},{"k":10,"x":0.006,"y":0.25292},{"k":10,"x":0.0085,"y":0.25205},{"k":10,"x":0.0115,"y":0.25124},{"k":10,"x":0.015,"y":0.25071},{"k":10,"x":0.02,"y":0.25053},{"k":10,"x":0.026,"y":0.25037},{"k":10,"x":0.0316,"y":0.25031},
{"k":11,"x":0,"y":0.25751},{"k":11,"x":0.0003,"y":0.25751},{"k":11,"x":0.0008,"y":0.25687},{"k":11,"x":0.0015,"y":0.25569},{"k":11,"x":0.0025,"y":0.25469},{"k":11,"x":0.004,"y":0.25373},{"k":11,"x":0.006,"y":0.2528},{"k":11,"x":0.0085,"y":0.25195},{"k":11,"x":0.0115,"y":0.25114},{"k":11,"x":0.015,"y":0.25066},{"k":11,"x":0.02,"y":0.2505},{"k":11,"x":0.026,"y":0.25034},{"k":11,"x":0.0316,"y":0.25029},
{"k":12,"x":0,"y":0.25736},{"k":12,"x":0.0003,"y":0.25736},{"k":12,"x":0.0008,"y":0.25673},{"k":12,"x":0.0015,"y":0.25553},{"k":12,"x":0.0025,"y":0.25453},{"k":12,"x":0.004,"y":0.25361},{"k":12,"x":0.006,"y":0.25269},{"k":12,"x":0.0085,"y":0.25185},{"k":12,"x":0.0115,"y":0.25106},{"k":12,"x":0.015,"y":0.25061},{"k":12,"x":0.02,"y":0.25047},{"k":12,"x":0.026,"y":0.25032},{"k":12,"x":0.0316,"y":0.25028},
{"k":13,"x":0,"y":0.25721},{"k":13,"x":0.0003,"y":0.25721},{"k":13,"x":0.0008,"y":0.25659},{"k":13,"x":0.0015,"y":0.25538},{"k":13,"x":0.0025,"y":0.25439},{"k":13,"x":0.004,"y":0.25349},{"k":13,"x":0.006,"y":0.25259},{"k":13,"x":0.0085,"y":0.25176},{"k":13,"x":0.0115,"y":0.25098},{"k":13,"x":0.015,"y":0.25057},{"k":13,"x":0.02,"y":0.25045},{"k":13,"x":0.026,"y":0.2503},{"k":13,"x":0.0316,"y":0.25027},
{"k":14,"x":0,"y":0.25708},{"k":14,"x":0.0003,"y":0.25709},{"k":14,"x":0.0008,"y":0.25647},{"k":14,"x":0.0015,"y":0.25525},{"k":14,"x":0.0025,"y":0.25426},{"k":14,"x":0.004,"y":0.25339},{"k":14,"x":0.006,"y":0.2525},{"k":14,"x":0.0085,"y":0.25168},{"k":14,"x":0.0115,"y":0.25091},{"k":14,"x":0.015,"y":0.25053},{"k":14,"x":0.02,"y":0.25042},{"k":14,"x":0.026,"y":0.25029},{"k":14,"x":0.0316,"y":0.25026},
{"k":15,"x":0,"y":0.25696},{"k":15,"x":0.0003,"y":0.25697},{"k":15,"x":0.0008,"y":0.25636},{"k":15,"x":0.0015,"y":0.25513},{"k":15,"x":0.0025,"y":0.25414},{"k":15,"x":0.004,"y":0.25329},{"k":15,"x":0.006,"y":0.25242},{"k":15,"x":0.0085,"y":0.25161},{"k":15,"x":0.0115,"y":0.25084},{"k":15,"x":0.015,"y":0.2505},{"k":15,"x":0.02,"y":0.2504},{"k":15,"x":0.026,"y":0.25027},{"k":15,"x":0.0316,"y":0.25025},
{"k":16,"x":0,"y":0.25686},{"k":16,"x":0.0003,"y":0.25687},{"k":16,"x":0.0008,"y":0.25627},{"k":16,"x":0.0015,"y":0.25502},{"k":16,"x":0.0025,"y":0.25404},{"k":16,"x":0.004,"y":0.25321},{"k":16,"x":0.006,"y":0.25235},{"k":16,"x":0.0085,"y":0.25155},{"k":16,"x":0.0115,"y":0.25078},{"k":16,"x":0.015,"y":0.25046},{"k":16,"x":0.02,"y":0.25038},{"k":16,"x":0.026,"y":0.25025},{"k":16,"x":0.0316,"y":0.25024},
{"k":17,"x":0,"y":0.25676},{"k":17,"x":0.0003,"y":0.25677},{"k":17,"x":0.0008,"y":0.25618},{"k":17,"x":0.0015,"y":0.25492},{"k":17,"x":0.0025,"y":0.25394},{"k":17,"x":0.004,"y":0.25313},{"k":17,"x":0.006,"y":0.25228},{"k":17,"x":0.0085,"y":0.25149},{"k":17,"x":0.0115,"y":0.25073},{"k":17,"x":0.015,"y":0.25044},{"k":17,"x":0.02,"y":0.25037},{"k":17,"x":0.026,"y":0.25024},{"k":17,"x":0.0316,"y":0.25023},
{"k":18,"x":0,"y":0.25667},{"k":18,"x":0.0003,"y":0.25669},{"k":18,"x":0.0008,"y":0.2561},{"k":18,"x":0.0015,"y":0.25483},{"k":18,"x":0.0025,"y":0.25386},{"k":18,"x":0.004,"y":0.25306},{"k":18,"x":0.006,"y":0.25222},{"k":18,"x":0.0085,"y":0.25143},{"k":18,"x":0.0115,"y":0.25068},{"k":18,"x":0.015,"y":0.25041},{"k":18,"x":0.02,"y":0.25035},{"k":18,"x":0.026,"y":0.25023},{"k":18,"x":0.0316,"y":0.25022},
{"k":19,"x":0,"y":0.2566},{"k":19,"x":0.0003,"y":0.25661},{"k":19,"x":0.0008,"y":0.25602},{"k":19,"x":0.0015,"y":0.25475},{"k":19,"x":0.0025,"y":0.25378},{"k":19,"x":0.004,"y":0.253},{"k":19,"x":0.006,"y":0.25216},{"k":19,"x":0.0085,"y":0.25139},{"k":19,"x":0.0115,"y":0.25064},{"k":19,"x":0.015,"y":0.25039},{"k":19,"x":0.02,"y":0.25034},{"k":19,"x":0.026,"y":0.25022},{"k":19,"x":0.0316,"y":0.25022},
{"k":20,"x":0,"y":0.25653},{"k":20,"x":0.0003,"y":0.25654},{"k":20,"x":0.0008,"y":0.25596},{"k":20,"x":0.0015,"y":0.25468},{"k":20,"x":0.0025,"y":0.25371},{"k":20,"x":0.004,"y":0.25294},{"k":20,"x":0.006,"y":0.25212},{"k":20,"x":0.0085,"y":0.25134},{"k":20,"x":0.0115,"y":0.2506},{"k":20,"x":0.015,"y":0.25037},{"k":20,"x":0.02,"y":0.25033},{"k":20,"x":0.026,"y":0.25021},{"k":20,"x":0.0316,"y":0.25021},
{"k":21,"x":0,"y":0.25647},{"k":21,"x":0.0003,"y":0.25648},{"k":21,"x":0.0008,"y":0.25591},{"k":21,"x":0.0015,"y":0.25462},{"k":21,"x":0.0025,"y":0.25366},{"k":21,"x":0.004,"y":0.2529},{"k":21,"x":0.006,"y":0.25207},{"k":21,"x":0.0085,"y":0.25131},{"k":21,"x":0.0115,"y":0.25057},{"k":21,"x":0.015,"y":0.25035},{"k":21,"x":0.02,"y":0.25032},{"k":21,"x":0.026,"y":0.2502},{"k":21,"x":0.0316,"y":0.25021},
{"k":22,"x":0,"y":0.25641},{"k":22,"x":0.0003,"y":0.25643},{"k":22,"x":0.0008,"y":0.25586},{"k":22,"x":0.0015,"y":0.25456},{"k":22,"x":0.0025,"y":0.2536},{"k":22,"x":0.004,"y":0.25285},{"k":22,"x":0.006,"y":0.25204},{"k":22,"x":0.0085,"y":0.25128},{"k":22,"x":0.0115,"y":0.25054},{"k":22,"x":0.015,"y":0.25033},{"k":22,"x":0.02,"y":0.25031},{"k":22,"x":0.026,"y":0.25019},{"k":22,"x":0.0316,"y":0.2502},
{"k":23,"x":0,"y":0.25637},{"k":23,"x":0.0003,"y":0.25638},{"k":23,"x":0.0008,"y":0.25581},{"k":23,"x":0.0015,"y":0.25451},{"k":23,"x":0.0025,"y":0.25356},{"k":23,"x":0.004,"y":0.25282},{"k":23,"x":0.006,"y":0.252},{"k":23,"x":0.0085,"y":0.25125},{"k":23,"x":0.0115,"y":0.25051},{"k":23,"x":0.015,"y":0.25032},{"k":23,"x":0.02,"y":0.2503},{"k":23,"x":0.026,"y":0.25019},{"k":23,"x":0.0316,"y":0.2502},
{"k":24,"x":0,"y":0.25633},{"k":24,"x":0.0003,"y":0.25635},{"k":24,"x":0.0008,"y":0.25578},{"k":24,"x":0.0015,"y":0.25447},{"k":24,"x":0.0025,"y":0.25352},{"k":24,"x":0.004,"y":0.25279},{"k":24,"x":0.006,"y":0.25198},{"k":24,"x":0.0085,"y":0.25122},{"k":24,"x":0.0115,"y":0.25049},{"k":24,"x":0.015,"y":0.25031},{"k":24,"x":0.02,"y":0.25029},{"k":24,"x":0.026,"y":0.25018},{"k":24,"x":0.0316,"y":0.25019},
{"k":25,"x":0,"y":0.25629},{"k":25,"x":0.0003,"y":0.25631},{"k":25,"x":0.0008,"y":0.25574},{"k":25,"x":0.0015,"y":0.25444},{"k":25,"x":0.0025,"y":0.25348},{"k":25,"x":0.004,"y":0.25276},{"k":25,"x":0.006,"y":0.25195},{"k":25,"x":0.0085,"y":0.2512},{"k":25,"x":0.0115,"y":0.25047},{"k":25,"x":0.015,"y":0.2503},{"k":25,"x":0.02,"y":0.25028},{"k":25,"x":0.026,"y":0.25018},{"k":25,"x":0.0316,"y":0.25019},
{"k":26,"x":0,"y":0.25627},{"k":26,"x":0.0003,"y":0.25628},{"k":26,"x":0.0008,"y":0.25572},{"k":26,"x":0.0015,"y":0.25441},{"k":26,"x":0.0025,"y":0.25345},{"k":26,"x":0.004,"y":0.25274},{"k":26,"x":0.006,"y":0.25193},{"k":26,"x":0.0085,"y":0.25118},{"k":26,"x":0.0115,"y":0.25046},{"k":26,"x":0.015,"y":0.25029},{"k":26,"x":0.02,"y":0.25028},{"k":26,"x":0.026,"y":0.25017},{"k":26,"x":0.0316,"y":0.25019},
{"k":27,"x":0,"y":0.25624},{"k":27,"x":0.0003,"y":0.25626},{"k":27,"x":0.0008,"y":0.2557},{"k":27,"x":0.0015,"y":0.25439},{"k":27,"x":0.0025,"y":0.25343},{"k":27,"x":0.004,"y":0.25272},{"k":27,"x":0.006,"y":0.25192},{"k":27,"x":0.0085,"y":0.25117},{"k":27,"x":0.0115,"y":0.25045},{"k":27,"x":0.015,"y":0.25028},{"k":27,"x":0.02,"y":0.25027},{"k":27,"x":0.026,"y":0.25017},{"k":27,"x":0.0316,"y":0.25019},
{"k":28,"x":0,"y":0.25622},{"k":28,"x":0.0003,"y":0.25624},{"k":28,"x":0.0008,"y":0.25568},{"k":28,"x":0.0015,"y":0.25436},{"k":28,"x":0.0025,"y":0.25341},{"k":28,"x":0.004,"y":0.2527},{"k":28,"x":0.006,"y":0.2519},{"k":28,"x":0.0085,"y":0.25116},{"k":28,"x":0.0115,"y":0.25043},{"k":28,"x":0.015,"y":0.25028},{"k":28,"x":0.02,"y":0.25027},{"k":28,"x":0.026,"y":0.25017},{"k":28,"x":0.0316,"y":0.25019},
{"k":29,"x":0,"y":0.2562},{"k":29,"x":0.0003,"y":0.25622},{"k":29,"x":0.0008,"y":0.25566},{"k":29,"x":0.0015,"y":0.25435},{"k":29,"x":0.0025,"y":0.25339},{"k":29,"x":0.004,"y":0.25269},{"k":29,"x":0.006,"y":0.25189},{"k":29,"x":0.0085,"y":0.25115},{"k":29,"x":0.0115,"y":0.25042},{"k":29,"x":0.015,"y":0.25027},{"k":29,"x":0.02,"y":0.25027},{"k":29,"x":0.026,"y":0.25017},{"k":29,"x":0.0316,"y":0.25018},
{"k":30,"x":0,"y":0.25619},{"k":30,"x":0.0003,"y":0.25621},{"k":30,"x":0.0008,"y":0.25565},{"k":30,"x":0.0015,"y":0.25433},{"k":30,"x":0.0025,"y":0.25338},{"k":30,"x":0.004,"y":0.25268},{"k":30,"x":0.006,"y":0.25188},{"k":30,"x":0.0085,"y":0.25114},{"k":30,"x":0.0115,"y":0.25042},{"k":30,"x":0.015,"y":0.25027},{"k":30,"x":0.02,"y":0.25027},{"k":30,"x":0.026,"y":0.25016},{"k":30,"x":0.0316,"y":0.25018},
{"k":31,"x":0,"y":0.25618},{"k":31,"x":0.0003,"y":0.2562},{"k":31,"x":0.0008,"y":0.25564},{"k":31,"x":0.0015,"y":0.25432},{"k":31,"x":0.0025,"y":0.25337},{"k":31,"x":0.004,"y":0.25267},{"k":31,"x":0.006,"y":0.25188},{"k":31,"x":0.0085,"y":0.25113},{"k":31,"x":0.0115,"y":0.25041},{"k":31,"x":0.015,"y":0.25027},{"k":31,"x":0.02,"y":0.25026},{"k":31,"x":0.026,"y":0.25016},{"k":31,"x":0.0316,"y":0.25018},
{"k":32,"x":0,"y":0.25617},{"k":32,"x":0.0003,"y":0.25619},{"k":32,"x":0.0008,"y":0.25563},{"k":32,"x":0.0015,"y":0.25431},{"k":32,"x":0.0025,"y":0.25336},{"k":32,"x":0.004,"y":0.25266},{"k":32,"x":0.006,"y":0.25187},{"k":32,"x":0.0085,"y":0.25113},{"k":32,"x":0.0115,"y":0.25041},{"k":32,"x":0.015,"y":0.25026},{"k":32,"x":0.02,"y":0.25026},{"k":32,"x":0.026,"y":0.25016},{"k":32,"x":0.0316,"y":0.25018},
{"k":33,"x":0,"y":0.25617},{"k":33,"x":0.0003,"y":0.25619},{"k":33,"x":0.0008,"y":0.25563},{"k":33,"x":0.0015,"y":0.25431},{"k":33,"x":0.0025,"y":0.25336},{"k":33,"x":0.004,"y":0.25266},{"k":33,"x":0.006,"y":0.25187},{"k":33,"x":0.0085,"y":0.25113},{"k":33,"x":0.0115,"y":0.25041},{"k":33,"x":0.015,"y":0.25026},{"k":33,"x":0.02,"y":0.25026},{"k":33,"x":0.026,"y":0.25016},{"k":33,"x":0.0316,"y":0.25018},
{"k":34,"x":0,"y":0.25616},{"k":34,"x":0.0003,"y":0.25618},{"k":34,"x":0.0008,"y":0.25562},{"k":34,"x":0.0015,"y":0.2543},{"k":34,"x":0.0025,"y":0.25335},{"k":34,"x":0.004,"y":0.25265},{"k":34,"x":0.006,"y":0.25186},{"k":34,"x":0.0085,"y":0.25112},{"k":34,"x":0.0115,"y":0.2504},{"k":34,"x":0.015,"y":0.25026},{"k":34,"x":0.02,"y":0.25026},{"k":34,"x":0.026,"y":0.25016},{"k":34,"x":0.0316,"y":0.25018},
{"k":35,"x":0,"y":0.25616},{"k":35,"x":0.0003,"y":0.25618},{"k":35,"x":0.0008,"y":0.25562},{"k":35,"x":0.0015,"y":0.2543},{"k":35,"x":0.0025,"y":0.25335},{"k":35,"x":0.004,"y":0.25265},{"k":35,"x":0.006,"y":0.25186},{"k":35,"x":0.0085,"y":0.25112},{"k":35,"x":0.0115,"y":0.2504},{"k":35,"x":0.015,"y":0.25026},{"k":35,"x":0.02,"y":0.25026},{"k":35,"x":0.026,"y":0.25016},{"k":35,"x":0.0316,"y":0.25018},
{"k":36,"x":0,"y":0.25616},{"k":36,"x":0.0003,"y":0.25618},{"k":36,"x":0.0008,"y":0.25562},{"k":36,"x":0.0015,"y":0.2543},{"k":36,"x":0.0025,"y":0.25335},{"k":36,"x":0.004,"y":0.25265},{"k":36,"x":0.006,"y":0.25186},{"k":36,"x":0.0085,"y":0.25112},{"k":36,"x":0.0115,"y":0.2504},{"k":36,"x":0.015,"y":0.25026},{"k":36,"x":0.02,"y":0.25026},{"k":36,"x":0.026,"y":0.25016},{"k":36,"x":0.0316,"y":0.25018},
{"k":37,"x":0,"y":0.25616},{"k":37,"x":0.0003,"y":0.25618},{"k":37,"x":0.0008,"y":0.25562},{"k":37,"x":0.0015,"y":0.2543},{"k":37,"x":0.0025,"y":0.25335},{"k":37,"x":0.004,"y":0.25265},{"k":37,"x":0.006,"y":0.25186},{"k":37,"x":0.0085,"y":0.25112},{"k":37,"x":0.0115,"y":0.2504},{"k":37,"x":0.015,"y":0.25026},{"k":37,"x":0.02,"y":0.25026},{"k":37,"x":0.026,"y":0.25016},{"k":37,"x":0.0316,"y":0.25018},
{"k":38,"x":0,"y":0.25616},{"k":38,"x":0.0003,"y":0.25618},{"k":38,"x":0.0008,"y":0.25562},{"k":38,"x":0.0015,"y":0.2543},{"k":38,"x":0.0025,"y":0.25335},{"k":38,"x":0.004,"y":0.25265},{"k":38,"x":0.006,"y":0.25186},{"k":38,"x":0.0085,"y":0.25112},{"k":38,"x":0.0115,"y":0.2504},{"k":38,"x":0.015,"y":0.25026},{"k":38,"x":0.02,"y":0.25026},{"k":38,"x":0.026,"y":0.25016},{"k":38,"x":0.0316,"y":0.25018},
{"k":39,"x":0,"y":0.25616},{"k":39,"x":0.0003,"y":0.25618},{"k":39,"x":0.0008,"y":0.25562},{"k":39,"x":0.0015,"y":0.2543},{"k":39,"x":0.0025,"y":0.25335},{"k":39,"x":0.004,"y":0.25265},{"k":39,"x":0.006,"y":0.25186},{"k":39,"x":0.0085,"y":0.25112},{"k":39,"x":0.0115,"y":0.2504},{"k":39,"x":0.015,"y":0.25026},{"k":39,"x":0.02,"y":0.25026},{"k":39,"x":0.026,"y":0.25016},{"k":39,"x":0.0316,"y":0.25018},
{"k":40,"x":0,"y":0.25616},{"k":40,"x":0.0003,"y":0.25618},{"k":40,"x":0.0008,"y":0.25562},{"k":40,"x":0.0015,"y":0.2543},{"k":40,"x":0.0025,"y":0.25335},{"k":40,"x":0.004,"y":0.25265},{"k":40,"x":0.006,"y":0.25186},{"k":40,"x":0.0085,"y":0.25112},{"k":40,"x":0.0115,"y":0.2504},{"k":40,"x":0.015,"y":0.25026},{"k":40,"x":0.02,"y":0.25026},{"k":40,"x":0.026,"y":0.25016},{"k":40,"x":0.0316,"y":0.25018}
]
},
"spacing": 142,
"bounds": "flush",
"resolve": {"scale": {"color": "independent"}, "legend": {"color": "independent"}},
"vconcat": [
{
  "width": 1002, "height": 329,
  "title": {"text": "Panel A: Control Group Outcome Regression", "font": "Liberation Serif", "fontSize": 28.8, "fontStyle": "italic", "fontWeight": "normal", "color": "#000000", "anchor": "middle", "dx": -57, "offset": -14, "baseline": "alphabetic"},
  "data": {"name": "A"},
  "mark": {"type": "line", "strokeWidth": 7, "interpolate": "monotone", "strokeJoin": "round"},
  "encoding": {
    "x": {"field": "x", "type": "quantitative", "scale": {"domain": [-0.5556, 11.815], "nice": false, "zero": false}, "axis": {"values": [0, 3, 6, 9], "format": "d", "title": null}},
    "y": {"field": "y", "type": "quantitative", "scale": {"domain": [2240, 3625], "nice": false, "zero": false}, "axis": {"values": [2400, 2800, 3200, 3600], "format": "d", "title": "MSE", "titleX": -97, "titleY": 164.5, "titleAngle": 270, "titleBaseline": "alphabetic", "titleAlign": "center"}},
    "color": {"field": "k", "type": "ordinal", "scale": {"scheme": "viridis", "domain": [3,4,5,6,7,8,9,10,11,12,13,14,15,16,17,18,19,20,21,22,23,24,25,26,27,28,29,30,31,32,33,34,35,36,37,38,39,40]}, "legend": null}
  }
},
{
  "width": 1002, "height": 328,
  "title": {"text": "Panel B: Treatment Group Outcome Regression", "font": "Liberation Serif", "fontSize": 28.8, "fontStyle": "italic", "fontWeight": "normal", "color": "#000000", "anchor": "middle", "dx": -57, "offset": -4, "baseline": "alphabetic"},
  "data": {"name": "B"},
  "mark": {"type": "line", "strokeWidth": 7, "interpolate": "monotone", "strokeJoin": "round"},
  "encoding": {
    "x": {"field": "x", "type": "quantitative", "scale": {"domain": [-0.4395, 9.346], "nice": false, "zero": false}, "axis": {"values": [0, 2.5, 5, 7.5], "format": ".1f", "title": null}},
    "y": {"field": "y", "type": "quantitative", "scale": {"domain": [3123.9, 3496.6], "nice": false, "zero": false}, "axis": {"values": [3200, 3300, 3400], "format": "d", "title": "MSE", "titleX": -97, "titleY": 164, "titleAngle": 270, "titleBaseline": "alphabetic", "titleAlign": "center"}},
    "color": {"field": "k", "type": "ordinal", "scale": {"scheme": "viridis", "domain": [3,4,5,6,7,8,9,10,11,12,13,14,15,16,17,18,19,20,21,22,23,24,25,26,27,28,29,30,31,32,33,34,35,36,37,38,39,40]}, "legend": null}
  }
},
{
  "width": 1002, "height": 298,
  "title": {"text": "Panel C: Propensity Score", "font": "Liberation Serif", "fontSize": 28.8, "fontStyle": "italic", "fontWeight": "normal", "color": "#000000", "anchor": "middle", "dx": -57, "offset": -4, "baseline": "alphabetic"},
  "data": {"name": "C"},
  "encoding": {
    "x": {"field": "x", "type": "quantitative", "scale": {"domain": [-0.0017993, 0.032872], "nice": false, "zero": false}, "axis": {"values": [0, 0.01, 0.02, 0.03], "format": ".2f", "title": "Lambda", "titleX": 509.5, "titleY": 75, "titleBaseline": "alphabetic", "titleAlign": "center"}},
    "y": {"field": "y", "type": "quantitative", "scale": {"domain": [0.24942, 0.26674], "nice": false, "zero": false}, "axis": {"values": [0.25, 0.255, 0.26, 0.265], "format": ".3f", "title": "MSE", "titleX": -97, "titleY": 149, "titleAngle": 270, "titleBaseline": "alphabetic", "titleAlign": "center"}}
  },
  "layer": [
    {"transform": [{"filter": {"field": "k", "range": [3, 10]}}],
     "mark": {"type": "line", "strokeWidth": 7, "interpolate": "monotone", "strokeJoin": "round"},
     "encoding": {"color": {"field": "k", "type": "ordinal", "scale": {"scheme": {"name": "viridis", "extent": [0, 0.18919]}, "domain": [3,4,5,6,7,8,9,10]},
       "legend": {"orient": "none", "legendX": 638.1, "legendY": 9, "title": "k", "direction": "vertical", "symbolType": "stroke", "symbolStrokeWidth": 6.7, "symbolSize": 313, "labelFont": "Liberation Sans", "labelFontSize": 15, "labelColor": "#000000", "labelOffset": 14, "clipHeight": 20, "rowPadding": 2.7, "titleFont": "Liberation Sans", "titleFontSize": 27, "titleFontWeight": "normal", "titleColor": "#000000", "titlePadding": 18, "padding": 0}}}},
    {"transform": [{"filter": {"field": "k", "range": [11, 18]}}],
     "mark": {"type": "line", "strokeWidth": 7, "interpolate": "monotone", "strokeJoin": "round"},
     "encoding": {"color": {"field": "k", "type": "ordinal", "scale": {"scheme": {"name": "viridis", "extent": [0.21622, 0.40541]}, "domain": [11,12,13,14,15,16,17,18]},
       "legend": {"orient": "none", "legendX": 709.9, "legendY": 9, "title": " ", "direction": "vertical", "symbolType": "stroke", "symbolStrokeWidth": 6.7, "symbolSize": 313, "labelFont": "Liberation Sans", "labelFontSize": 15, "labelColor": "#000000", "labelOffset": 14, "clipHeight": 20, "rowPadding": 2.7, "titleFont": "Liberation Sans", "titleFontSize": 27, "titleFontWeight": "normal", "titleColor": "#000000", "titlePadding": 18, "padding": 0}}}},
    {"transform": [{"filter": {"field": "k", "range": [19, 26]}}],
     "mark": {"type": "line", "strokeWidth": 7, "interpolate": "monotone", "strokeJoin": "round"},
     "encoding": {"color": {"field": "k", "type": "ordinal", "scale": {"scheme": {"name": "viridis", "extent": [0.43243, 0.62162]}, "domain": [19,20,21,22,23,24,25,26]},
       "legend": {"orient": "none", "legendX": 782.5, "legendY": 9, "title": " ", "direction": "vertical", "symbolType": "stroke", "symbolStrokeWidth": 6.7, "symbolSize": 313, "labelFont": "Liberation Sans", "labelFontSize": 15, "labelColor": "#000000", "labelOffset": 14, "clipHeight": 20, "rowPadding": 2.7, "titleFont": "Liberation Sans", "titleFontSize": 27, "titleFontWeight": "normal", "titleColor": "#000000", "titlePadding": 18, "padding": 0}}}},
    {"transform": [{"filter": {"field": "k", "range": [27, 34]}}],
     "mark": {"type": "line", "strokeWidth": 7, "interpolate": "monotone", "strokeJoin": "round"},
     "encoding": {"color": {"field": "k", "type": "ordinal", "scale": {"scheme": {"name": "viridis", "extent": [0.64865, 0.83784]}, "domain": [27,28,29,30,31,32,33,34]},
       "legend": {"orient": "none", "legendX": 854.9, "legendY": 9, "title": " ", "direction": "vertical", "symbolType": "stroke", "symbolStrokeWidth": 6.7, "symbolSize": 313, "labelFont": "Liberation Sans", "labelFontSize": 15, "labelColor": "#000000", "labelOffset": 14, "clipHeight": 20, "rowPadding": 2.7, "titleFont": "Liberation Sans", "titleFontSize": 27, "titleFontWeight": "normal", "titleColor": "#000000", "titlePadding": 18, "padding": 0}}}},
    {"transform": [{"filter": {"field": "k", "range": [35, 40]}}],
     "mark": {"type": "line", "strokeWidth": 7, "interpolate": "monotone", "strokeJoin": "round"},
     "encoding": {"color": {"field": "k", "type": "ordinal", "scale": {"scheme": {"name": "viridis", "extent": [0.86486, 1]}, "domain": [35,36,37,38,39,40]},
       "legend": {"orient": "none", "legendX": 927.2, "legendY": 9, "title": " ", "direction": "vertical", "symbolType": "stroke", "symbolStrokeWidth": 6.7, "symbolSize": 313, "labelFont": "Liberation Sans", "labelFontSize": 15, "labelColor": "#000000", "labelOffset": 14, "clipHeight": 20, "rowPadding": 2.7, "titleFont": "Liberation Sans", "titleFontSize": 27, "titleFontWeight": "normal", "titleColor": "#000000", "titlePadding": 18, "padding": 0}}}}
  ],
  "resolve": {"scale": {"color": "independent"}, "legend": {"color": "independent"}}
}
]
}
